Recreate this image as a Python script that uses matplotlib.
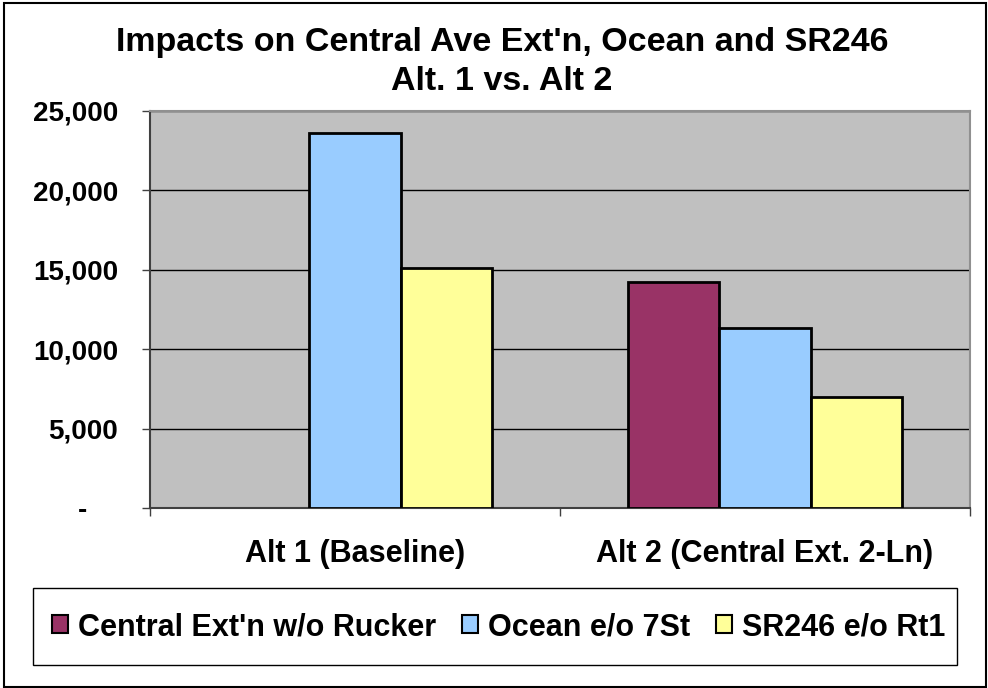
import numpy as np
import matplotlib
matplotlib.use("Agg")
import matplotlib.pyplot as plt
import matplotlib.ticker as ticker
from matplotlib.patches import Rectangle, Patch

plt.rcParams['font.family'] = ['Liberation Sans', 'DejaVu Sans']
plt.rcParams['font.weight'] = 'bold'

# data
categories = ["Alt 1 (Baseline)", "Alt 2 (Central Ext. 2-Ln)"]
series_names = ["Central Ext'n w/o Rucker", "Ocean e/o 7St", "SR246 e/o Rt1"]
central = [np.nan, 14200]
ocean = [23600, 11300]
sr246 = [15100, 7000]
colors = ["#993366", "#99CCFF", "#FFFF99"]

W, H = 988, 688
fig = plt.figure(figsize=(W / 100, H / 100), dpi=100)

# axes placed in pixel terms of the reference
ax = fig.add_axes([150 / W, 1 - 508 / H, 820 / W, (508 - 110.7) / H])
ax.set_facecolor("#C0C0C0")

x = np.arange(len(categories))
bw = 0.222
for i, (vals, col) in enumerate(zip([central, ocean, sr246], colors)):
	ax.bar(x + (i - 1) * bw, vals, width=bw, color=col, edgecolor="black",
		linewidth=2, zorder=3)

ax.set_xlim(-0.5, 1.5)
ax.set_ylim(0, 25000)
ax.yaxis.set_major_locator(ticker.MultipleLocator(5000))
# Excel accounting style: zero shows as a dash, set in from the right
ax.yaxis.set_major_formatter(ticker.FuncFormatter(lambda v, p: "-    " if v == 0 else "{:,.0f}".format(v)))
ax.grid(axis="y", color="black", linewidth=1, zorder=1)
ax.set_axisbelow(True)

ax.set_xticks([-0.5, 0.5, 1.5])
ax.set_xticklabels([])
ax.tick_params(axis="x", length=6, width=1, color="#404040", direction="out")
ax.tick_params(axis="y", length=6, width=1, color="#404040", direction="out",
	labelsize=20, pad=17)
for lab in ax.get_yticklabels():
	lab.set_fontweight("bold")

for c, name in zip(x, categories):
	ax.text(c, -0.115, name, transform=ax.get_xaxis_transform(), ha="center", va="center",
		fontsize=22, fontweight="bold")

ax.spines["left"].set_color("#404040")
ax.spines["bottom"].set_color("#404040")
ax.spines["top"].set_color("#909090")
ax.spines["right"].set_color("#909090")
for s in ax.spines.values():
	s.set_linewidth(1.5)

fig.text(502 / W, 1 - 42 / H, "Impacts on Central Ave Ext'n, Ocean and SR246",
	ha="center", va="center", fontsize=24.5, fontweight="bold")
fig.text(502 / W, 1 - 82 / H, "Alt. 1 vs. Alt 2",
	ha="center", va="center", fontsize=24.5, fontweight="bold")

handles = [Patch(facecolor=c, edgecolor="black", linewidth=1.5) for c in colors]
leg = fig.legend(handles, series_names, ncol=3, loc="center",
	bbox_to_anchor=(499 / W, 1 - 627 / H), frameon=False,
	handlelength=0.5, handleheight=0.5, handletextpad=0.35,
	columnspacing=0.85, borderpad=0, borderaxespad=0,
	prop={"weight": "bold", "size": 22})

# legend box, drawn separately so its size matches the reference
fig.patches.append(Rectangle((33 / W, 1 - 665 / H), 924 / W, 77 / H, transform=fig.transFigure,
	fill=False, edgecolor="black", linewidth=1))

# outer chart border
fig.patches.append(Rectangle((4 / W, 1 / H), (W - 6) / W, (H - 4) / H, transform=fig.transFigure,
	fill=False, edgecolor="black", linewidth=1.5))

fig.savefig("out.png", dpi=100)
